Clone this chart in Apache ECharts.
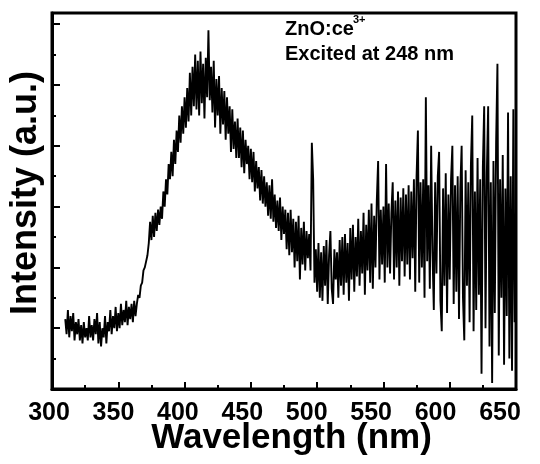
<!DOCTYPE html>
<html>
<head>
<meta charset="utf-8">
<script src="https://cdn.jsdelivr.net/npm/echarts@6/dist/echarts.min.js"></script>
<style>
  html, body { margin: 0; padding: 0; background: #fff; }
  #chart { width: 540px; height: 464px; }
</style>
</head>
<body>
<div id="chart"></div>
<script>
// wavelength of the first sample, 1 nm steps after that
const startNm = 310;

// intensity (a.u.), 1 nm apart
const baseline = [ // 310 - 369
  2.3, 1.8, 2.6, 1.7, 2.4, 1.9, 2.5, 1.6, 2.2, 1.8,
  2.3, 1.6, 2.1, 1.5, 2.2, 1.7, 2.0, 1.6, 2.4, 1.7,
  2.1, 1.6, 2.3, 1.8, 2.5, 1.5, 2.2, 1.4, 2.0, 1.7,
  2.4, 1.5, 2.2, 1.9, 2.6, 1.8, 2.4, 2.0, 2.7, 1.9,
  2.5, 2.0, 2.8, 2.1, 2.6, 2.2, 2.9, 2.1, 2.7, 2.3,
  2.8, 2.2, 2.9, 2.4, 2.8, 3.1, 3.0, 3.4, 3.5, 3.9
];
const peak = [ // 370 - 429
  4.0, 4.2, 4.4, 4.8, 5.5, 4.9, 5.7, 5.0, 5.8, 5.2,
  5.9, 5.4, 6.0, 5.6, 6.5, 6.0, 6.9, 6.4, 7.4, 6.9,
  7.8, 7.0, 8.2, 7.4, 8.5, 7.8, 9.0, 8.1, 9.3, 8.4,
  9.6, 8.6, 9.9, 8.8, 10.4, 9.0, 10.6, 9.3, 11.0, 9.2,
  10.8, 9.0, 11.1, 9.4, 10.7, 8.9, 10.9, 9.6, 11.8, 9.5,
  10.6, 9.1, 10.8, 8.6, 10.2, 9.0, 10.3, 8.4, 9.9, 8.7
];
const tail = [ // 430 - 499
  9.8, 8.2, 9.6, 8.4, 9.3, 7.8, 9.2, 7.9, 8.8, 7.6,
  8.9, 7.6, 8.6, 7.3, 8.5, 7.1, 8.2, 7.4, 8.0, 6.9,
  7.9, 6.8, 7.8, 6.5, 7.5, 6.6, 7.3, 6.2, 7.2, 6.1,
  7.0, 6.0, 6.8, 5.7, 6.7, 5.6, 6.9, 5.5, 6.4, 5.3,
  6.2, 5.2, 6.3, 4.9, 6.0, 5.1, 5.9, 4.6, 5.8, 4.4,
  5.9, 4.5, 5.6, 4.0, 5.5, 4.2, 5.7, 3.6, 5.3, 4.1,
  5.5, 3.9, 5.2, 4.3, 5.1, 3.9, 8.1, 6.9, 3.5, 4.6
];
const greenBand = [ // 500 - 559
  3.2, 4.8, 3.0, 4.5, 2.9, 4.7, 3.4, 4.9, 2.8, 4.4,
  5.2, 3.3, 2.8, 4.6, 3.6, 4.5, 3.0, 4.9, 3.4, 5.0,
  3.1, 5.1, 3.5, 4.8, 2.9, 5.3, 3.6, 5.4, 3.2, 5.0,
  3.7, 5.6, 3.4, 5.2, 3.8, 5.8, 3.1, 5.4, 3.9, 5.9,
  3.5, 6.1, 3.3, 5.7, 4.0, 6.2, 7.5, 3.6, 5.9, 4.1,
  6.0, 3.5, 7.4, 4.0, 6.1, 3.8, 5.8, 6.8, 3.6, 6.2
];
const redBand = [ // 560 - 650
  4.0, 6.5, 3.4, 6.3, 4.2, 6.6, 3.7, 6.4, 4.1, 6.7,
  3.6, 6.5, 4.3, 6.9, 3.2, 7.0, 8.5, 3.5, 6.8, 4.0,
  6.9, 3.0, 9.6, 4.2, 6.7, 3.3, 8.0, 4.5, 2.6, 6.8,
  3.8, 7.0, 7.8, 2.9, 1.9, 6.6, 3.4, 7.1, 2.5, 6.4,
  3.6, 6.9, 8.0, 2.8, 6.7, 3.2, 7.0, 2.3, 6.6, 8.0,
  3.0, 1.6, 7.2, 3.4, 6.8, 2.2, 7.4, 9.0, 1.9, 6.5,
  2.6, 7.6, 3.1, 6.9, 0.5, 7.3, 9.3, 2.0, 7.1, 9.3,
  1.4, 6.8, 0.2, 7.5, 2.5, 8.1, 10.7, 1.1, 6.9, 3.0,
  7.7, 0.8, 6.6, 2.4, 9.1, 1.0, 7.0, 0.6, 9.2, 2.2, 6.0
];

const intensity = baseline.concat(peak, tail, greenBand, redBand);
const spectrum = intensity.map((v, i) => [startNm + i, v]);

const font = "'Liberation Sans', Arial, sans-serif";

const chart = echarts.init(document.getElementById('chart'));
chart.setOption({
  animation: false,
  grid: [
    // the frame round the plot
    { left: 51, right: 24, top: 13, bottom: 75, show: true, borderColor: '#000', borderWidth: 3 },
    // the tick labels in the picture sit a little left of their ticks
    { left: 49, width: 451, top: 13, bottom: 75 }
  ],
  xAxis: [
    {
      type: 'value', gridIndex: 0, min: 300, max: 650, interval: 50,
      name: 'Wavelength (nm)', nameLocation: 'middle', nameGap: 32,
      nameTextStyle: { fontFamily: font, fontWeight: 'bold', fontSize: 35, color: '#000', padding: [0, 0, 0, 15] },
      axisLine: { onZero: false, lineStyle: { color: '#000', width: 3 } },
      axisTick: { inside: true, length: 7, lineStyle: { color: '#000', width: 2 } },
      minorTick: { show: true, splitNumber: 2, length: 4, lineStyle: { color: '#000', width: 2 } },
      axisLabel: { show: false },
      splitLine: { show: false }
    },
    {
      type: 'value', gridIndex: 1, min: 300, max: 650, interval: 50,
      axisLine: { show: false, onZero: false },
      axisTick: { show: false },
      axisLabel: { margin: 12, fontFamily: font, fontWeight: 'bold', fontSize: 25, color: '#000' },
      splitLine: { show: false }
    }
  ],
  yAxis: [
    {
      type: 'value', gridIndex: 0, min: 0, max: 12.37, interval: 2,
      name: 'Intensity (a.u.)', nameLocation: 'middle', nameGap: 8,
      nameTextStyle: { fontFamily: font, fontWeight: 'bold', fontSize: 36, color: '#000', padding: [0, 0, 0, 16] },
      axisLine: { onZero: false, lineStyle: { color: '#000', width: 3 } },
      axisTick: { inside: true, length: 8, lineStyle: { color: '#000', width: 2 } },
      minorTick: { show: true, splitNumber: 2, length: 4, lineStyle: { color: '#000', width: 2 } },
      axisLabel: { show: false },
      splitLine: { show: false }
    },
    { type: 'value', gridIndex: 1, min: 0, max: 1, show: false }
  ],
  graphic: [
    { type: 'text', left: 285, top: 19, style: { text: 'ZnO:ce', font: 'bold 20px ' + font, fill: '#000' } },
    { type: 'text', left: 353, top: 14, style: { text: '3+', font: 'bold 11px ' + font, fill: '#000' } },
    { type: 'text', left: 285, top: 44, style: { text: 'Excited at 248 nm', font: 'bold 20px ' + font, fill: '#000' } }
  ],
  series: [
    {
      type: 'line',
      xAxisIndex: 0, yAxisIndex: 0,
      data: spectrum,
      showSymbol: false,
      lineStyle: { color: '#000', width: 1.9 }
    }
  ]
});
</script>
</body>
</html>
